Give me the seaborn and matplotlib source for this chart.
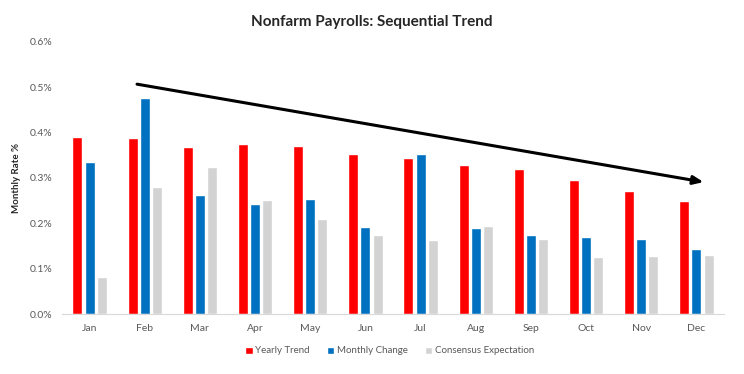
import pandas as pd
import numpy as np
import matplotlib
matplotlib.use("Agg")
import matplotlib.pyplot as plt
import seaborn as sns

# === data ===
months = ["Jan", "Feb", "Mar", "Apr", "May", "Jun", "Jul", "Aug", "Sep", "Oct", "Nov", "Dec"]
yearly_trend = [0.390, 0.388, 0.368, 0.375, 0.370, 0.353, 0.344, 0.329, 0.320, 0.296, 0.271, 0.249]
monthly_change = [0.335, 0.476, 0.262, 0.243, 0.254, 0.192, 0.353, 0.190, 0.174, 0.170, 0.165, 0.143]
consensus = [0.082, 0.280, 0.324, 0.251, 0.210, 0.174, 0.163, 0.194, 0.165, 0.126, 0.128, 0.130]
series_names = ["Yearly Trend", "Monthly Change", "Consensus Expectation"]
colors = ["#FF0000", "#0070C0", "#D3D3D3"]

# trend arrow (category index, % value)
trend_start = (0.86, 0.507)
trend_end = (11.13, 0.291)

df = pd.DataFrame({
    "month": months * 3,
    "value": yearly_trend + monthly_change + consensus,
    "series": [s for s in series_names for _ in months],
})

sns.set_style("white")
plt.rcParams["font.family"] = ["Lato", "DejaVu Sans"]

fig = plt.figure(figsize=(7.44, 3.74), dpi=100)
ax = fig.add_axes([62 / 744, 60 / 374, 662 / 744, 272 / 374])

sns.barplot(data=df, x="month", y="value", hue="series", palette=colors,
            width=0.66, gap=0.17, ax=ax, saturation=1, legend=True)

ax.set_ylim(0, 0.6)
ax.set_xlim(-0.5, 11.5)
ax.set_yticks(np.arange(0, 0.61, 0.1))
ax.set_yticklabels([f"{v:.1f}%" for v in np.arange(0, 0.61, 0.1)])
ax.tick_params(axis="y", length=0, pad=7, labelsize=7.5, labelcolor="#595959")
ax.tick_params(axis="x", which="major", length=0, pad=7, labelsize=7.5, labelcolor="#595959")
ax.set_xticks(np.arange(-0.5, 12, 1), minor=True)
ax.tick_params(axis="x", which="minor", length=4, color="#D9D9D9", width=1)
ax.set_xlabel("")
ax.set_ylabel("Monthly Rate %", fontsize=7, fontweight="bold", labelpad=6)

for s in ["top", "right", "left"]:
    ax.spines[s].set_visible(False)
ax.spines["bottom"].set_color("#D9D9D9")

ax.annotate("", xy=trend_end, xytext=trend_start,
            arrowprops=dict(arrowstyle="-|>,head_length=0.6,head_width=0.25",
                            color="black", lw=2.2, shrinkA=0, shrinkB=0))

fig.text(0.5, 1 - 22 / 374, "Nonfarm Payrolls: Sequential Trend", ha="center", va="center",
         fontsize=11, fontweight="bold")

leg = ax.legend(loc="center", bbox_to_anchor=(0.495, -0.136), ncol=3, frameon=False,
                fontsize=7, handlelength=0.75, handleheight=0.75, handletextpad=0.25,
                columnspacing=1.8, labelcolor="#595959")

fig.savefig("out.png", dpi=100)
